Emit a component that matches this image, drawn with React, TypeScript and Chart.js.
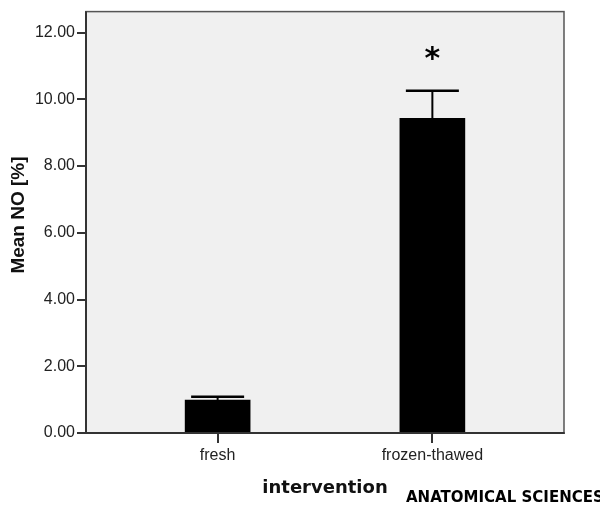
import React, { useEffect, useRef } from 'react';
import { Chart, registerables } from 'chart.js';

Chart.register(...registerables);

const categories = ['fresh', 'frozen-thawed'];
const meanValues = [0.99, 9.43];
const errorValues = [0.1, 0.83];
const significance = ['', '*'];
const yTickValues = [0, 2, 4, 6, 8, 10, 12];
const yMin = 0;
const yMax = 12.63;
const yTitle = 'Mean NO [%]';
const xTitle = 'intervention';
const watermark = 'ANATOMICAL SCIENCES';

export default function App() {
  const ref = useRef<HTMLCanvasElement>(null);

  useEffect(() => {
    if (!ref.current) return;

    const decorPlugin = {
      id: 'decor',
      beforeDraw(chart: any) {
        const { ctx, chartArea: a } = chart;
        ctx.save();
        ctx.fillStyle = '#ffffff';
        ctx.fillRect(0, 0, chart.width, chart.height);
        ctx.fillStyle = '#f0f0f0';
        ctx.fillRect(a.left, a.top, a.right - a.left, a.bottom - a.top);
        ctx.restore();
      },
      afterDatasetsDraw(chart: any) {
        const { ctx } = chart;
        const xs = chart.scales.x;
        const ys = chart.scales.y;
        ctx.save();
        ctx.strokeStyle = '#000000';
        meanValues.forEach((m, i) => {
          const x = xs.getPixelForValue(i);
          const yTop = ys.getPixelForValue(m + errorValues[i]);
          const yMean = ys.getPixelForValue(m);
          ctx.lineWidth = 2;
          ctx.beginPath();
          ctx.moveTo(x, yMean);
          ctx.lineTo(x, yTop);
          ctx.stroke();
          ctx.lineWidth = 2.5;
          ctx.beginPath();
          ctx.moveTo(x - 26.5, yTop);
          ctx.lineTo(x + 26.5, yTop);
          ctx.stroke();
          if (significance[i]) {
            ctx.fillStyle = '#000000';
            ctx.font = 'bold 30px "DejaVu Sans"';
            ctx.textAlign = 'center';
            ctx.textBaseline = 'middle';
            ctx.fillText(significance[i], x, yTop - 30);
          }
        });
        ctx.restore();
      },
      afterDraw(chart: any) {
        const { ctx, chartArea: a } = chart;
        ctx.save();
        ctx.strokeStyle = '#555555';
        ctx.lineWidth = 1.5;
        ctx.strokeRect(a.left, a.top, a.right - a.left, a.bottom - a.top);
        ctx.strokeStyle = '#333333';
        ctx.lineWidth = 2;
        ctx.beginPath();
        ctx.moveTo(a.left, a.top);
        ctx.lineTo(a.left, a.bottom);
        ctx.lineTo(a.right, a.bottom);
        ctx.stroke();
        // y axis title
        ctx.fillStyle = '#111111';
        ctx.font = 'bold 19px "Liberation Sans", Arial';
        ctx.textAlign = 'center';
        ctx.textBaseline = 'middle';
        ctx.translate(19, 215);
        ctx.rotate(-Math.PI / 2);
        ctx.fillText(yTitle, 0, 0);
        ctx.setTransform(1, 0, 0, 1, 0, 0);
        // watermark
        ctx.fillStyle = '#000000';
        ctx.font = 'bold 15px "DejaVu Sans"';
        ctx.textAlign = 'left';
        ctx.textBaseline = 'alphabetic';
        ctx.fillText(watermark, 406, 502);
        ctx.restore();
      },
    };

    const chart = new Chart(ref.current, {
      type: 'bar',
      data: {
        datasets: [
          {
            data: meanValues.map((v, i) => ({ x: i, y: v })),
            backgroundColor: '#000000',
            borderWidth: 0,
            barThickness: 65,
          },
        ],
      },
      options: {
        animation: false,
        responsive: false,
        maintainAspectRatio: false,
        layout: { padding: { top: 11.5, right: 36, left: 0, bottom: 0 } },
        plugins: {
          legend: { display: false },
          tooltip: { enabled: false },
        },
        scales: {
          x: {
            type: 'linear',
            offset: false,
            min: -0.613,
            max: 1.613,
            afterBuildTicks: (scale: any) => {
              scale.ticks = categories.map((_, i) => ({ value: i }));
            },
            afterFit: (scale: any) => {
              scale.height = 72;
            },
            ticks: {
              callback: (v: any) => categories[v] ?? '',
              font: { family: '"Liberation Sans", Arial', size: 16 },
              color: '#222222',
              padding: 3,
              maxRotation: 0,
              autoSkip: false,
            },
            grid: {
              offset: false,
              drawOnChartArea: false,
              drawTicks: true,
              tickLength: 10,
              color: '#333333',
              lineWidth: 2,
            },
            border: { display: true, color: '#333333', width: 2 },
            title: {
              display: true,
              text: xTitle,
              font: { family: '"DejaVu Sans"', size: 18, weight: 'bold' },
              color: '#111111',
              padding: { top: 0, bottom: 6.2 },
            },
          },
          y: {
            type: 'linear',
            min: yMin,
            max: yMax,
            afterBuildTicks: (scale: any) => {
              scale.ticks = yTickValues.map((v) => ({ value: v }));
            },
            afterFit: (scale: any) => {
              scale.width = 86;
            },
            ticks: {
              callback: (v: any) => Number(v).toFixed(2),
              font: { family: '"Liberation Sans", Arial', size: 16 },
              color: '#222222',
              padding: 2,
            },
            grid: {
              drawOnChartArea: false,
              drawTicks: true,
              tickLength: 9,
              color: '#333333',
              lineWidth: 2,
            },
            border: { display: true, color: '#333333', width: 2 },
          },
        },
      },
      plugins: [decorPlugin],
    } as any);

    return () => chart.destroy();
  }, []);

  return (
    <div style={{ position: 'fixed', left: 0, top: 0, width: 600, height: 505, background: '#fff' }}>
      <canvas ref={ref} width={600} height={505} style={{ width: 600, height: 505, display: 'block' }} />
    </div>
  );
}
